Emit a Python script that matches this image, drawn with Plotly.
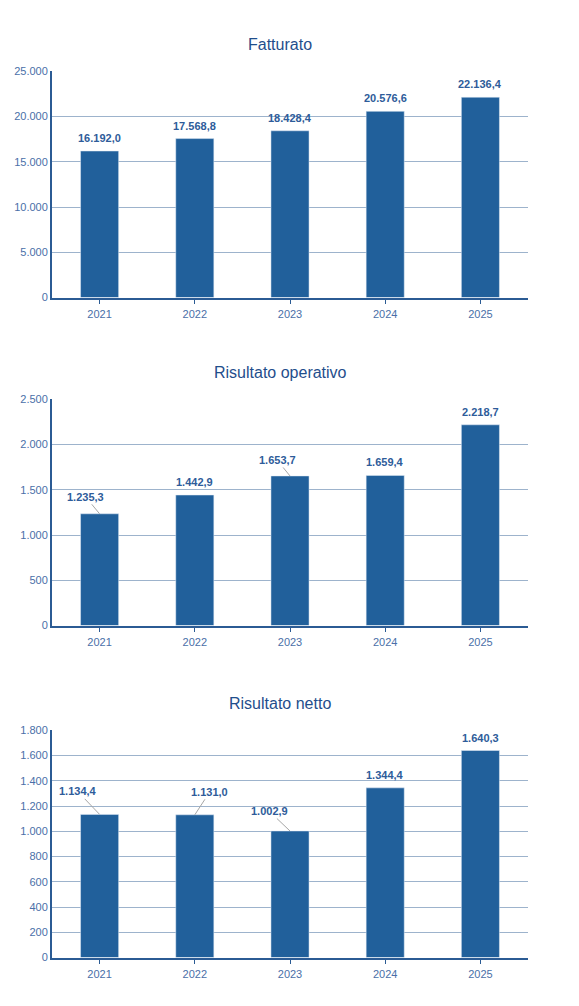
import plotly.graph_objects as go
from plotly.subplots import make_subplots

years = ["2021", "2022", "2023", "2024", "2025"]
fatturato = [16192.0, 17568.8, 18428.4, 20576.6, 22136.4]
operativo = [1235.3, 1442.9, 1653.7, 1659.4, 2218.7]
netto = [1134.4, 1131.0, 1002.9, 1344.4, 1640.3]
titles = ["Fatturato", "Risultato operativo", "Risultato netto"]
ranges = [25000, 2500, 1800]
dticks = [5000, 500, 200]
leaders = [
    [None] * 5,
    [(-14, -17), None, (-13, -16), None, None],
    [(-22, -23), (15, -23), (-21, -20), None, None],
]

def fmt(v, dec=1):
    s = f"{v:,.{dec}f}"
    return s.replace(",", "X").replace(".", ",").replace("X", ".")

BAR = "#21609B"
LAB = "#2E5C9A"
TICK = "#4A6FA8"
GRID = "#9DB3CC"
AX = "#2B5B94"

H = 1006.0
W = 579.0
DX, DY = 8, 13
fig = make_subplots(rows=3, cols=1)
plots = [(71, 300), (403, 632), (738, 968)]
for i, data in enumerate([fatturato, operativo, netto]):
    r = i + 1
    top, bot = plots[i][0] - DY, plots[i][1] - DY
    fig.add_trace(go.Bar(x=years, y=data, marker_color=BAR, width=0.4,
                         hoverinfo="skip"), row=r, col=1)
    xa = "xaxis" if r == 1 else f"xaxis{r}"
    ya = "yaxis" if r == 1 else f"yaxis{r}"
    fig.layout[xa].update(type="category", domain=[(52 - DX) / W, (528 - DX) / W],
                          showline=True, linecolor=AX, linewidth=1.5, ticks="outside",
                          ticklen=5, tickcolor=AX, tickfont=dict(size=11, color=TICK),
                          showgrid=False, range=[-0.5, 4.5])
    fig.layout[ya].update(domain=[1 - bot / H, 1 - top / H], range=[0, ranges[i]],
                          dtick=dticks[i], showline=True, linecolor=AX, linewidth=2,
                          gridcolor=GRID, tickfont=dict(size=11, color=TICK), ticks="",
                          tickformat=",d", zeroline=False)
    fig.add_annotation(text=titles[i], xref="paper", yref="paper", x=0.47,
                       y=1 - (top - 27) / H, yanchor="middle", showarrow=False,
                       font=dict(size=16, color="#1F4E8C"))
    xr = "x" if r == 1 else f"x{r}"
    yr = "y" if r == 1 else f"y{r}"
    for j, v in enumerate(data):
        lead = leaders[i][j]
        if lead is None:
            fig.add_annotation(x=j, y=v, xref=xr, yref=yr, text="<b>" + fmt(v) + "</b>",
                               showarrow=False, yshift=13,
                               font=dict(size=11, color=LAB))
        else:
            fig.add_annotation(x=j, y=v, xref=xr, yref=yr, text="<b>" + fmt(v) + "</b>",
                               showarrow=True, arrowhead=0, arrowwidth=1,
                               arrowcolor="#A6A6A6", ax=lead[0], ay=lead[1],
                               font=dict(size=11, color=LAB))

fig.update_layout(width=579, height=1006, margin=dict(l=0, r=0, t=0, b=0),
                  plot_bgcolor="white", paper_bgcolor="white", showlegend=False,
                  font=dict(family="Liberation Sans, Arial, sans-serif"),
                  separators=",.")
fig.write_html("out.html")
